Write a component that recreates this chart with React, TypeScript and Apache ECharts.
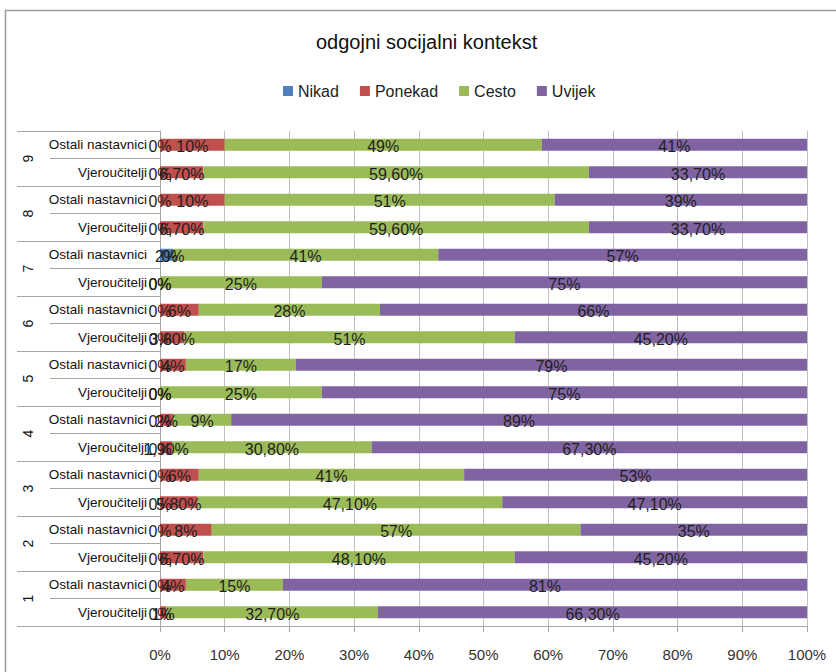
import React, { useEffect, useRef } from 'react';
import * as echarts from 'echarts';

const titleText = 'odgojni socijalni kontekst';
const groups = ['1', '2', '3', '4', '5', '6', '7', '8', '9'];
const subgroups = ['Vjeroučitelji', 'Ostali nastavnici'];
const seriesNames = ['Nikad', 'Ponekad', 'Cesto', 'Uvijek'];
const colors = ['#4F81BD', '#C0504D', '#9BBB59', '#8064A2'];

// order: bottom to top -> 1 Vjeroučitelji, 1 Ostali nastavnici, 2 Vjeroučitelji, ...
const nikad = [0, 0, 0, 0, 0, 0, 0, 0, 0, 0, 0, 0, 0, 2, 0, 0, 0, 0];
const ponekad = [1, 4, 6.7, 8, 5.8, 6, 1.9, 2, 0, 4, 3.8, 6, 0, 0, 6.7, 10, 6.7, 10];
const cesto = [32.7, 15, 48.1, 57, 47.1, 41, 30.8, 9, 25, 17, 51, 28, 25, 41, 59.6, 51, 59.6, 49];
const uvijek = [66.3, 81, 45.2, 35, 47.1, 53, 67.3, 89, 75, 79, 45.2, 66, 75, 57, 33.7, 39, 33.7, 41];

const FONT = "'Liberation Sans', Arial, sans-serif";

function fmt(v: number): string {
  if (Number.isInteger(v)) return `${v}%`;
  return `${v.toFixed(2).replace('.', ',')}%`;
}

export default function App() {
  const ref = useRef<HTMLDivElement>(null);
  useEffect(() => {
    const chart = echarts.init(ref.current!, null, { renderer: 'svg' });
    const categories = groups.flatMap((g) => subgroups.map((s) => `${g}|${s}`));
    const values = [nikad, ponekad, cesto, uvijek];
    chart.setOption({
      animation: false,
      backgroundColor: '#ffffff',
      textStyle: { fontFamily: FONT },
      title: {
        text: titleText,
        left: 316,
        top: 32,
        padding: 0,
        textStyle: { fontFamily: FONT, fontSize: 20, fontWeight: 'normal', color: '#111' },
      },
      legend: {
        data: seriesNames,
        left: 283,
        top: 83,
        padding: 0,
        itemWidth: 10,
        itemHeight: 10,
        itemGap: 21,
        icon: 'rect',
        textStyle: { fontFamily: FONT, fontSize: 16, color: '#222' },
      },
      graphic: [
        {
          type: 'rect',
          shape: { x: 5.5, y: 10.5, width: 1000, height: 1000 },
          style: { fill: 'none', stroke: '#9a9a9a', lineWidth: 1.5 },
          silent: true,
          z: -10,
        },
      ],
      grid: { left: 160, right: 29, top: 131, bottom: 46, containLabel: false },
      xAxis: {
        type: 'value',
        min: 0,
        max: 100,
        interval: 10,
        axisLine: { show: true, lineStyle: { color: '#a6a6a6' } },
        axisTick: { show: true, length: 6, lineStyle: { color: '#a6a6a6' } },
        splitLine: { show: true, lineStyle: { color: '#bfbfbf' } },
        axisLabel: {
          formatter: '{value}%',
          margin: 21,
          fontSize: 15,
          color: '#333',
          fontFamily: FONT,
        },
      },
      yAxis: [
        {
          type: 'category',
          data: categories,
          position: 'left',
          axisLine: { show: true, lineStyle: { color: '#a6a6a6' } },
          axisTick: { show: true, interval: 0, length: 110, lineStyle: { color: '#a6a6a6' } },
          axisLabel: {
            interval: 0,
            margin: 13,
            fontSize: 13.5,
            color: '#111',
            fontFamily: FONT,
            formatter: (v: string) => v.split('|')[1],
          },
          splitLine: { show: false },
        },
        {
          type: 'category',
          data: groups,
          position: 'left',
          offset: 0,
          axisLine: { show: false },
          axisTick: { show: true, interval: 0, length: 143, lineStyle: { color: '#a6a6a6' } },
          axisLabel: {
            interval: 0,
            rotate: 90,
            margin: 125,
            fontSize: 14,
            color: '#111',
            fontFamily: FONT,
          },
          splitLine: { show: false },
        },
      ],
      series: seriesNames.map((name, i) => ({
        name,
        type: 'bar',
        stack: 'total',
        yAxisIndex: 0,
        barWidth: 12,
        data: values[i],
        itemStyle: { color: colors[i] },
        label: {
          show: true,
          position: 'inside',
          formatter: (p: any) => fmt(p.value as number),
          color: '#1f1f1f',
          fontSize: 16,
          fontFamily: FONT,
          offset: [0, 2],
        },
      })),
    });
    return () => chart.dispose();
  }, []);
  return (
    <div
      ref={ref}
      style={{ position: 'fixed', left: 0, top: 0, width: 836, height: 672, background: '#fff' }}
    />
  );
}
